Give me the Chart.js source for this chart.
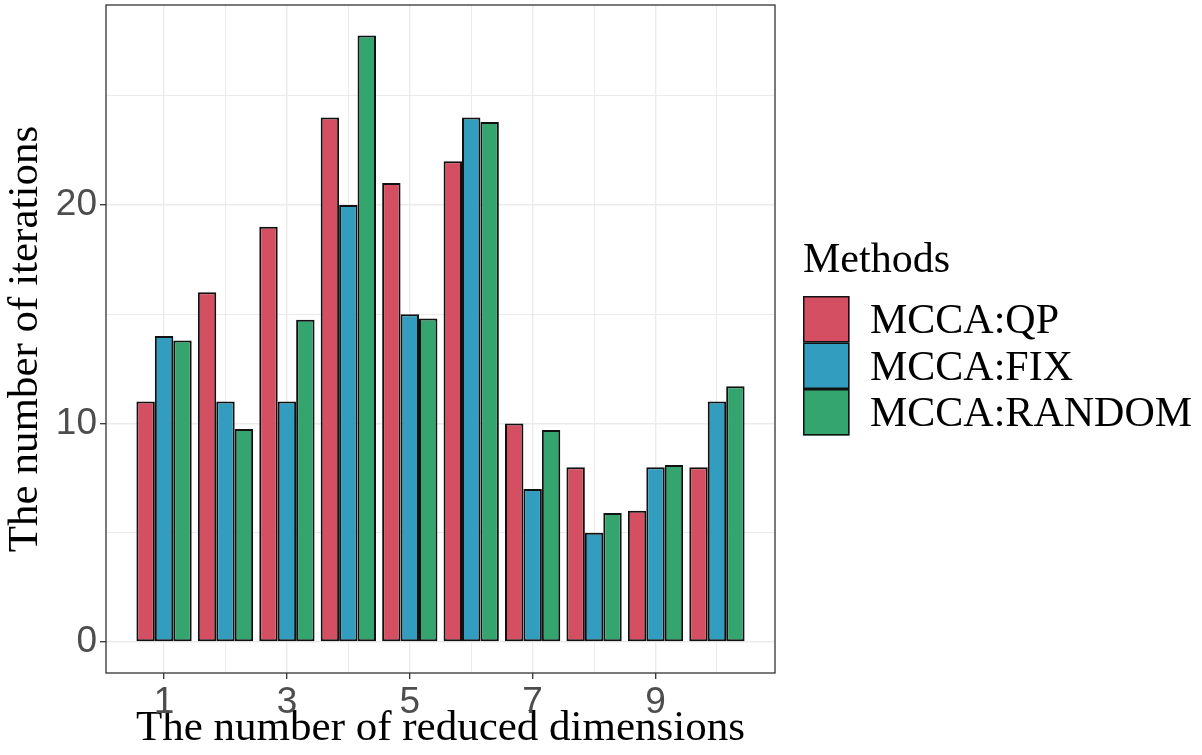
<!DOCTYPE html>
<html>
<head>
<meta charset="utf-8">
<script src="https://cdn.jsdelivr.net/npm/chart.js@4"></script>
<style>
  html, body { margin: 0; padding: 0; background: #fff; }
  canvas { display: block; }
</style>
</head>
<body>
<canvas id="chart" width="1202" height="755"></canvas>
<script>
var dims = [1, 2, 3, 4, 5, 6, 7, 8, 9, 10];
var qpValues = [11, 16, 19, 24, 21, 22, 10, 8, 6, 8];
var fixValues = [14, 11, 11, 20, 15, 24, 7, 5, 8, 11];
var randomValues = [13.8, 9.75, 14.75, 27.75, 14.8, 23.8, 9.7, 5.9, 8.1, 11.7];
var methodNames = ['MCCA:QP', 'MCCA:FIX', 'MCCA:RANDOM'];
var xTickLabels = [1, 3, 5, 7, 9];
var yTickLabels = [0, 10, 20];

var colors = ['#d44f61', '#339dbf', '#34a56f'];
var serif = '"Liberation Serif", "DejaVu Serif", serif';
var sans = '"Liberation Sans", Arial, sans-serif';

function toPoints(values) {
  return values.map(function(v, i) { return {x: dims[i], y: v}; });
}

/* panel border like theme_bw */
var panelBorder = {
  id: 'panelBorder',
  afterDatasetsDraw: function(chart) {
    var a = chart.chartArea;
    var ctx = chart.ctx;
    ctx.save();
    ctx.strokeStyle = '#333333';
    ctx.lineWidth = 1.3;
    ctx.strokeRect(a.left, a.top, a.right - a.left, a.bottom - a.top);
    ctx.restore();
  }
};

/* ggplot-style legend on the right */
var sideLegend = {
  id: 'sideLegend',
  afterDraw: function(chart) {
    var ctx = chart.ctx;
    var left = chart.chartArea.right + 28;
    ctx.save();
    ctx.fillStyle = '#000';
    ctx.font = '42px ' + serif;
    ctx.textBaseline = 'alphabetic';
    ctx.textAlign = 'left';
    ctx.fillText('Methods', left, 272);
    var top = 296;
    var size = 46.5;
    chart.data.datasets.forEach(function(ds, i) {
      var y = top + i * size;
      ctx.fillStyle = ds.backgroundColor;
      ctx.fillRect(left, y, size, size);
      ctx.strokeStyle = '#111';
      ctx.lineWidth = 1.5;
      ctx.strokeRect(left + 0.75, y + 0.75, size - 1.5, size - 1.5);
      ctx.fillStyle = '#000';
      ctx.fillText(ds.label, left + 67, y + 37);
    });
    ctx.restore();
  }
};

function noPad(scale) {
  scale.paddingTop = 0;
  scale.paddingBottom = 0;
  scale.paddingLeft = 0;
  scale.paddingRight = 0;
}

var datasets = [qpValues, fixValues, randomValues].map(function(vals, i) {
  return {
    label: methodNames[i],
    data: toPoints(vals),
    backgroundColor: colors[i],
    borderColor: '#111111',
    borderWidth: 2,
    borderSkipped: false,
    categoryPercentage: 0.9,
    barPercentage: 1.0
  };
});

new Chart(document.getElementById('chart'), {
  type: 'bar',
  data: { datasets: datasets },
  options: {
    responsive: false,
    animation: false,
    devicePixelRatio: 1,
    layout: { padding: { top: 5, right: 427, bottom: 0, left: 0 } },
    plugins: { legend: { display: false }, tooltip: { enabled: false } },
    scales: {
      x: {
        type: 'linear',
        offset: false,
        min: 0.055,
        max: 10.945,
        afterFit: function(scale) { scale.height = 82; noPad(scale); },
        ticks: {
          stepSize: 1,
          includeBounds: false,
          autoSkip: false,
          maxRotation: 0,
          padding: 2,
          color: '#4d4d4d',
          font: { family: sans, size: 37 },
          callback: function(v) { return xTickLabels.indexOf(v) >= 0 ? String(v) : ''; }
        },
        grid: {
          offset: false,
          color: '#ebebeb',
          lineWidth: function(c) { return c.tick && xTickLabels.indexOf(c.tick.value) >= 0 ? 1.4 : 1; },
          tickLength: 6,
          tickWidth: 1.3,
          tickColor: function(c) { return c.tick && xTickLabels.indexOf(c.tick.value) >= 0 ? '#333333' : 'rgba(0,0,0,0)'; }
        },
        border: { display: false },
        title: {
          display: true,
          text: 'The number of reduced dimensions',
          color: '#000',
          padding: { top: 0, bottom: 0 },
          font: { family: serif, size: 43 }
        }
      },
      y: {
        min: -1.42,
        max: 29.15,
        afterFit: function(scale) { scale.width = 106; noPad(scale); },
        ticks: {
          stepSize: 5,
          includeBounds: false,
          padding: 3,
          color: '#4d4d4d',
          font: { family: sans, size: 37 },
          callback: function(v) { return yTickLabels.indexOf(v) >= 0 ? String(v) : ''; }
        },
        grid: {
          color: '#ebebeb',
          lineWidth: function(c) { return c.tick && yTickLabels.indexOf(c.tick.value) >= 0 ? 1.4 : 1; },
          tickLength: 6,
          tickWidth: 1.3,
          tickColor: function(c) { return c.tick && yTickLabels.indexOf(c.tick.value) >= 0 ? '#333333' : 'rgba(0,0,0,0)'; }
        },
        border: { display: false },
        title: {
          display: true,
          text: 'The number of iterations',
          color: '#000',
          padding: { top: 0, bottom: 0 },
          font: { family: serif, size: 43 }
        }
      }
    }
  },
  plugins: [panelBorder, sideLegend]
});
</script>
</body>
</html>
